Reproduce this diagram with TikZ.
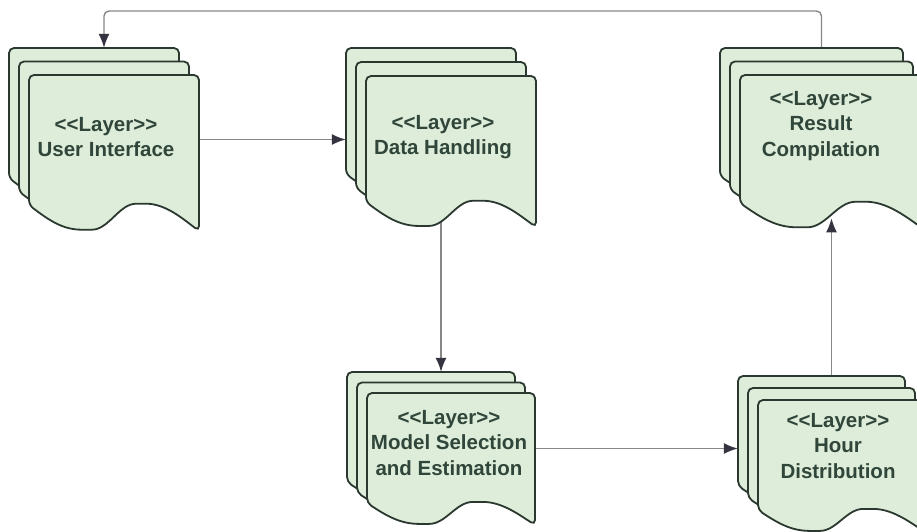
\documentclass[tikz,border=0pt]{standalone}
\usepackage{fontspec}
\setmainfont{Liberation Sans}
\usetikzlibrary{positioning,arrows.meta,fit,backgrounds,calc}
\definecolor{sheetfill}{RGB}{222,237,217}
\definecolor{sheetline}{RGB}{42,56,48}
\definecolor{layertxt}{RGB}{48,70,58}
\definecolor{connline}{RGB}{135,135,135}
\definecolor{tipdark}{RGB}{52,52,64}
\newcommand{\stereo}{{<}{<}Layer{>}{>}}
% stack of three sheets: name, x, y (back top-left), width, left height, step down
\newcommand{\sheetstack}[6]{%
  \foreach \k in {0,1,2}{
    \begin{scope}[shift={({#2+10*\k},{#3+#6*\k})}]
      \draw[sheet] (0,#5)
        .. controls ({0.12*#4},{1.12*#5}) and ({0.2*#4},{1.19*#5}) .. ({0.34*#4},{1.19*#5})
        .. controls ({0.47*#4},{1.19*#5}) and ({0.53*#4},{0.99*#5}) .. ({0.66*#4},{0.99*#5})
        .. controls ({0.8*#4},{0.99*#5}) and ({0.9*#4},{1.1*#5}) .. ({#4},{1.2*#5})
        -- (#4,0) -- (0,0) -- cycle;
    \end{scope}
  }
  \node[inner sep=0pt, fit={(#2,#3) ({#2+20+#4},{#3+2*#6+1.2*#5})}] (#1) {};
  \coordinate (#1-wave) at ({#2+20+0.5*#4},{#3+2*#6+1.12*#5});
}

\begin{document}
\begin{tikzpicture}[
    x=1pt, y=-1pt,
    sheet/.style={draw=sheetline, fill=sheetfill, line width=1.8pt, rounded corners=5pt},
    layer/.style={align=center, text=layertxt, inner sep=0pt,
                  font=\bfseries\fontsize{20.5}{25.5}\selectfont},
    conn/.style={draw=connline, line width=1.4pt,
                 -{Latex[length=14pt, width=11pt, color=tipdark]}}
  ]
  \useasboundingbox (0,0) rectangle (917,531);

  % ================= TOP ROW =================
  \sheetstack{ui}{9}{48}{170}{130}{13.5}
  \node[layer] (ui-txt) at (106,137) {\stereo\\User Interface};

  \sheetstack{dh}{346}{48}{170}{126}{14}
  \node[layer] (dh-txt) at (443,137) {\stereo\\Data Handling};

  \sheetstack{rc}{720}{48}{183}{128}{13.5}
  \node[layer] (rc-txt) at (821,126) {\stereo\\Result\\Compilation};

  % ================= BOTTOM ROW =================
  \sheetstack{ms}{347}{372}{168}{110}{10.5}
  \node[layer] (ms-txt) at (449,443) {\stereo\\Model Selection\\and Estimation};

  \sheetstack{hr}{738}{376}{167}{110}{12}
  \node[layer] (hr-txt) at (838,446) {\stereo\\Hour\\Distribution};

  % ================= CONNECTORS =================
  \coordinate (loop) at (0,11);
  \begin{scope}[on background layer]
    \draw[conn] (ui.east) -- (ui.east -| dh.west);
    \draw[conn] (dh.center) -- (dh.center |- ms.north);
    \draw[conn] (ms.east) -- (ms.east -| hr.west);
    \draw[conn] (hr.center) -- (hr.center |- rc-wave);
    \draw[conn, rounded corners=5pt] (rc.north) -- (rc.north |- loop) -| (ui.north);
  \end{scope}
\end{tikzpicture}
\end{document}
